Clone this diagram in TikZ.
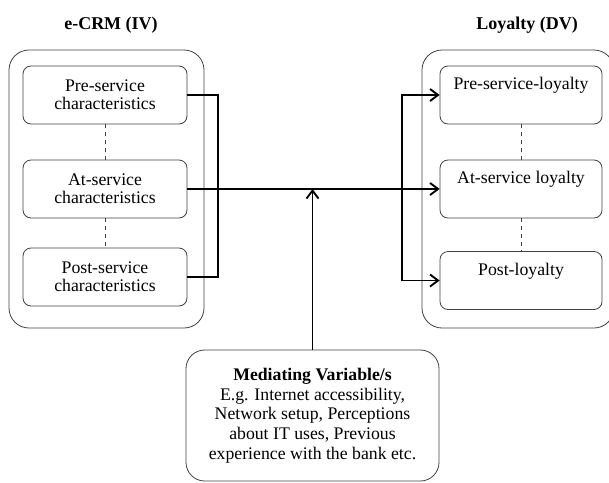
\documentclass[tikz,border=0pt]{standalone}
\usepackage{fontspec}
\setmainfont{Liberation Serif}
\usetikzlibrary{arrows.meta}
\begin{document}
\begin{tikzpicture}[x=0.75pt,y=-0.75pt,>={Straight Barb[length=6pt,width=9pt]},
	outerbox/.style={draw=black!75,line width=0.6pt,rounded corners=15pt},
	inbox/.style={draw=black!75,line width=0.6pt,rounded corners=6pt,minimum height=43.5pt,align=center,inner sep=0pt,font=\fontsize{13.3}{13.3}\selectfont},
	medbox/.style={draw=black!75,line width=0.6pt,rounded corners=14pt,minimum width=189.75pt,minimum height=98.25pt,align=center,inner sep=0pt,font=\fontsize{13.3}{14.8}\selectfont},
	link/.style={line width=1.4pt},
	title/.style={font=\fontsize{13.5}{14}\selectfont\bfseries}]
	\useasboundingbox (0,0) rectangle (609,482);
	\clip (0,0) rectangle (609,482);
	% outer groups
	\draw[outerbox] (9,50) rectangle (204,328);
	\draw[outerbox] (422,50) rectangle (614,328);
	\node[title] (ivtitle) at (111,25) {e-CRM (IV)};
	\node[title] (dvtitle) at (527,25) {Loyalty (DV)};
	% e-CRM boxes
	\node[inbox,minimum width=123pt] (pre) at (105,95) {Pre-service\\characteristics};
	\node[inbox,minimum width=123pt] (at) at (105,189) {At-service\\characteristics};
	\node[inbox,minimum width=123pt] (post) at (105,277) {Post-service\\characteristics};
	% loyalty boxes
	\node[inbox,minimum width=121.5pt] (rpre) at (521,95) {Pre-service-loyalty\\\strut};
	\node[inbox,minimum width=121.5pt] (rat) at (521,189) {At-service loyalty\\\strut};
	\node[inbox,minimum width=121.5pt] (rpost) at (521,280.5) {Post-loyalty\\\strut};
	\foreach \a/\b in {pre/at,at/post,rpre/rat,rat/rpost}
		\draw[dashed,black!75,line width=0.5pt] (\a.south)--(\b.north);
	% mediating variables
	\node[medbox] (med) at (312.5,415.5) {\textbf{Mediating Variable/s}\\E.g. Internet accessibility,\\Network setup, Perceptions\\about IT uses, Previous\\experience with the bank etc.};
	% connectors
	\draw[link] (pre.east)--++(31,0)|-(post.east);
	\draw[link,->] (at.east)--(rat.west);
	\path (rat.west)++(-38,0)coordinate(rj);
	\draw[link,->] (rj)|-(rpre.west);
	\draw[link,->] (rj)|-(rpost.west);
	\draw[link,->] (med.north)--(med.north|-at.east);
\end{tikzpicture}
\end{document}
